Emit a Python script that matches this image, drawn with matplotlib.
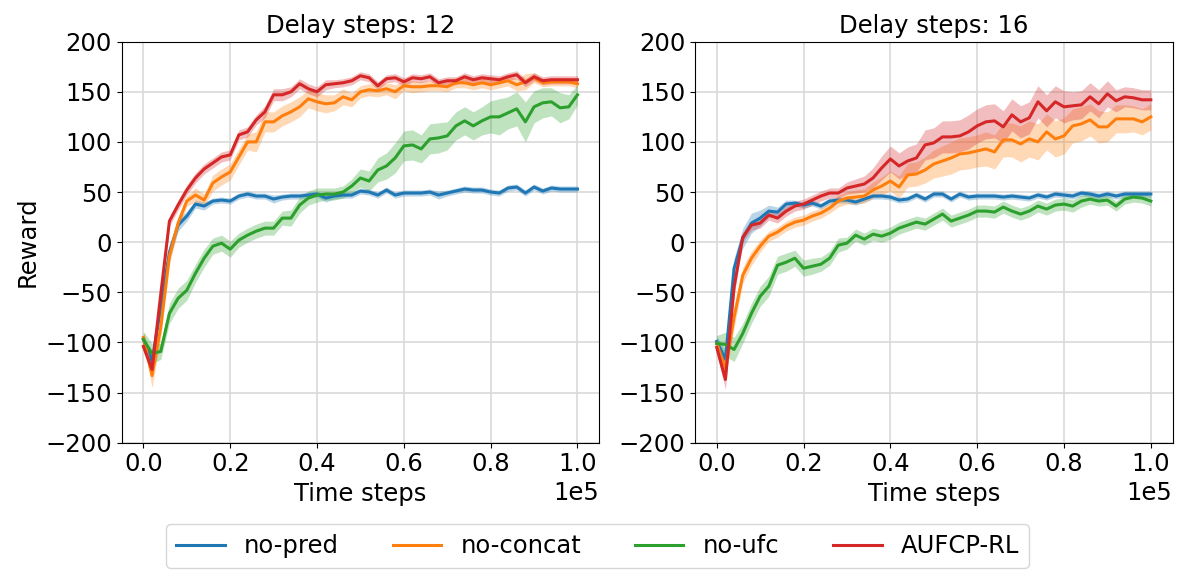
import matplotlib
matplotlib.use("Agg")
import matplotlib.pyplot as plt
import numpy as np

plt.rcParams['font.size'] = 17.5

steps = np.arange(51) * 2000
labels = ["no-pred", "no-concat", "no-ufc", "AUFCP-RL"]
colors = ["tab:blue", "tab:orange", "tab:green", "tab:red"]
titles = ["Delay steps: 12", "Delay steps: 16"]

# delay 12: mean reward per run
d12_pred = [-97, -119, -65, -10, 17, 26, 38, 36, 41, 42, 41, 46, 48, 46, 46, 43, 45, 46, 46, 47,
            48, 44, 46, 47, 47, 51, 50, 47, 52, 47, 49, 49, 49, 50, 47, 49, 51, 53, 52, 52,
            50, 49, 54, 55, 49, 55, 51, 54, 53, 53, 53]
d12_concat = [-95, -133, -85, -14, 19, 41, 47, 42, 59, 65, 70, 85, 100, 100, 120, 120, 126, 130, 135, 143,
              140, 138, 139, 145, 142, 150, 152, 151, 153, 150, 156, 155, 155, 156, 156, 155, 159, 159, 157, 159,
              157, 159, 161, 157, 160, 164, 159, 160, 160, 160, 158]
d12_ufc = [-97, -111, -109, -71, -56, -48, -31, -16, -4, -1, -7, 2, 7, 11, 14, 14, 24, 24, 37, 44,
           47, 48, 48, 50, 56, 64, 61, 72, 76, 84, 96, 97, 93, 103, 104, 106, 116, 121, 116, 121,
           125, 125, 129, 133, 120, 135, 139, 140, 134, 135, 147]
d12_full = [-104, -127, -52, 21, 37, 52, 64, 73, 79, 85, 87, 107, 110, 122, 130, 147, 147, 150, 158, 153,
            150, 157, 158, 159, 161, 166, 164, 156, 163, 164, 160, 164, 163, 165, 159, 161, 161, 165, 162, 164,
            163, 162, 165, 167, 159, 165, 161, 162, 162, 162, 162]

d12_pred_sd = [6, 6, 8, 8, 6, 5, 4, 4, 3, 3, 3, 3, 3, 3, 3, 4, 3, 3, 3, 3,
               3, 4, 3, 3, 3, 3, 3, 3, 3, 3, 3, 3, 3, 3, 4, 3, 3, 3, 3, 3,
               3, 3, 3, 3, 3, 3, 3, 3, 3, 3, 3]
d12_concat_sd = [5, 12, 10, 8, 6, 5, 7, 6, 8, 8, 8, 8, 8, 10, 10, 10, 10, 10, 10, 9,
                 9, 9, 8, 8, 7, 6, 6, 6, 6, 7, 5, 6, 5, 5, 5, 5, 5, 5, 5, 5,
                 5, 5, 5, 6, 8, 5, 4, 4, 4, 4, 4]
d12_ufc_sd = [8, 10, 8, 10, 10, 10, 9, 9, 8, 8, 8, 7, 7, 7, 7, 7, 7, 8, 8, 7,
              7, 6, 6, 6, 7, 9, 10, 12, 13, 15, 15, 15, 14, 15, 15, 14, 14, 14, 14, 14,
              16, 18, 16, 17, 20, 16, 15, 14, 15, 12, 10]
d12_full_sd = [5, 8, 6, 5, 5, 5, 5, 5, 5, 5, 5, 5, 5, 5, 6, 6, 6, 5, 5, 5,
               5, 5, 4, 4, 4, 4, 4, 4, 4, 4, 4, 4, 4, 4, 4, 4, 4, 4, 4, 4,
               4, 4, 4, 4, 4, 4, 4, 4, 4, 4, 4]

# delay 16
d16_pred = [-99, -117, -26, 4, 19, 24, 31, 30, 38, 39, 37, 39, 36, 41, 42, 42, 40, 43, 46, 46,
            45, 42, 43, 47, 43, 48, 48, 43, 48, 45, 46, 46, 46, 45, 46, 45, 44, 47, 45, 48,
            47, 46, 49, 48, 46, 48, 46, 48, 48, 48, 48]
d16_concat = [-101, -126, -75, -33, -16, -4, 6, 10, 16, 20, 22, 26, 29, 34, 41, 44, 45, 46, 52, 56,
              61, 55, 67, 68, 72, 78, 81, 84, 88, 89, 91, 93, 90, 102, 102, 98, 103, 100, 110, 103,
              106, 116, 118, 122, 115, 115, 123, 123, 123, 120, 125]
d16_ufc = [-101, -102, -107, -91, -71, -54, -44, -23, -20, -16, -26, -24, -22, -16, -3, -1, 7, 3, 8, 6,
           9, 14, 17, 20, 18, 23, 28, 21, 24, 27, 31, 31, 30, 35, 31, 28, 31, 36, 33, 37,
           38, 36, 41, 43, 41, 42, 36, 43, 45, 44, 41]
d16_full = [-105, -137, -45, 5, 17, 19, 27, 24, 31, 36, 38, 42, 46, 49, 49, 54, 56, 58, 64, 74,
            83, 76, 81, 84, 97, 99, 105, 105, 106, 110, 116, 120, 121, 115, 127, 120, 124, 140, 131, 140,
            135, 136, 137, 145, 138, 148, 141, 145, 144, 142, 142]

d16_pred_sd = [6, 8, 10, 10, 10, 8, 6, 5, 4, 3, 3, 3, 3, 3, 3, 3, 3, 3, 3, 3,
               3, 3, 3, 3, 3, 3, 3, 3, 3, 3, 3, 3, 3, 3, 3, 3, 3, 3, 3, 3,
               3, 3, 3, 3, 3, 3, 3, 3, 3, 3, 3]
d16_concat_sd = [5, 10, 10, 8, 7, 6, 5, 5, 5, 5, 5, 5, 5, 5, 6, 6, 7, 7, 8, 9,
                 10, 11, 12, 12, 13, 14, 15, 16, 16, 16, 16, 17, 17, 17, 17, 18, 18, 18, 18, 18,
                 18, 17, 17, 16, 16, 15, 14, 14, 13, 13, 13]
d16_ufc_sd = [8, 12, 12, 10, 10, 10, 10, 9, 9, 8, 8, 8, 7, 7, 7, 6, 6, 6, 6, 6,
              6, 6, 6, 6, 6, 6, 6, 6, 6, 6, 6, 6, 6, 6, 6, 6, 6, 6, 6, 6,
              6, 6, 6, 5, 5, 5, 5, 5, 5, 5, 5]
d16_full_sd = [6, 10, 8, 5, 5, 5, 5, 5, 5, 5, 5, 5, 5, 5, 5, 6, 7, 8, 10, 12,
               13, 13, 14, 14, 15, 15, 16, 16, 16, 17, 17, 17, 17, 16, 16, 16, 16, 16, 16, 16,
               16, 14, 14, 14, 14, 13, 11, 10, 10, 10, 10]

runs = [
    ([d12_pred, d12_concat, d12_ufc, d12_full], [d12_pred_sd, d12_concat_sd, d12_ufc_sd, d12_full_sd]),
    ([d16_pred, d16_concat, d16_ufc, d16_full], [d16_pred_sd, d16_concat_sd, d16_ufc_sd, d16_full_sd]),
]

fig = plt.figure(figsize=(11.79, 5.77), dpi=100)
ax1 = fig.add_axes([0.1032, 0.2328, 0.405, 0.695])
ax2 = fig.add_axes([0.5895, 0.2328, 0.405, 0.695])

for ax, title, (means, sds) in zip([ax1, ax2], titles, runs):
    for m, s, c, lab in zip(means, sds, colors, labels):
        m = np.array(m, dtype=float)
        s = np.array(s, dtype=float)
        ax.fill_between(steps, m - s, m + s, color=c, alpha=0.3, linewidth=0)
        ax.plot(steps, m, color=c, linewidth=2.2, label=lab)
    ax.set_ylim(-200, 200)
    ax.set_yticks(np.arange(-200, 201, 50))
    ax.set_title(title, fontsize=17.5)
    ax.set_xlabel("Time steps")
    ax.ticklabel_format(axis='x', style='sci', scilimits=(0, 0))
    ax.grid(True, color='0.85', linewidth=1.2)
    ax.set_axisbelow(True)

ax1.set_ylabel("Reward")

handles, labs = ax1.get_legend_handles_labels()
fig.legend(handles, labs, loc='lower center', ncol=4, bbox_to_anchor=(0.507, -0.005),
           columnspacing=2.2, handlelength=2.0)

plt.savefig("out.png", dpi=100)
